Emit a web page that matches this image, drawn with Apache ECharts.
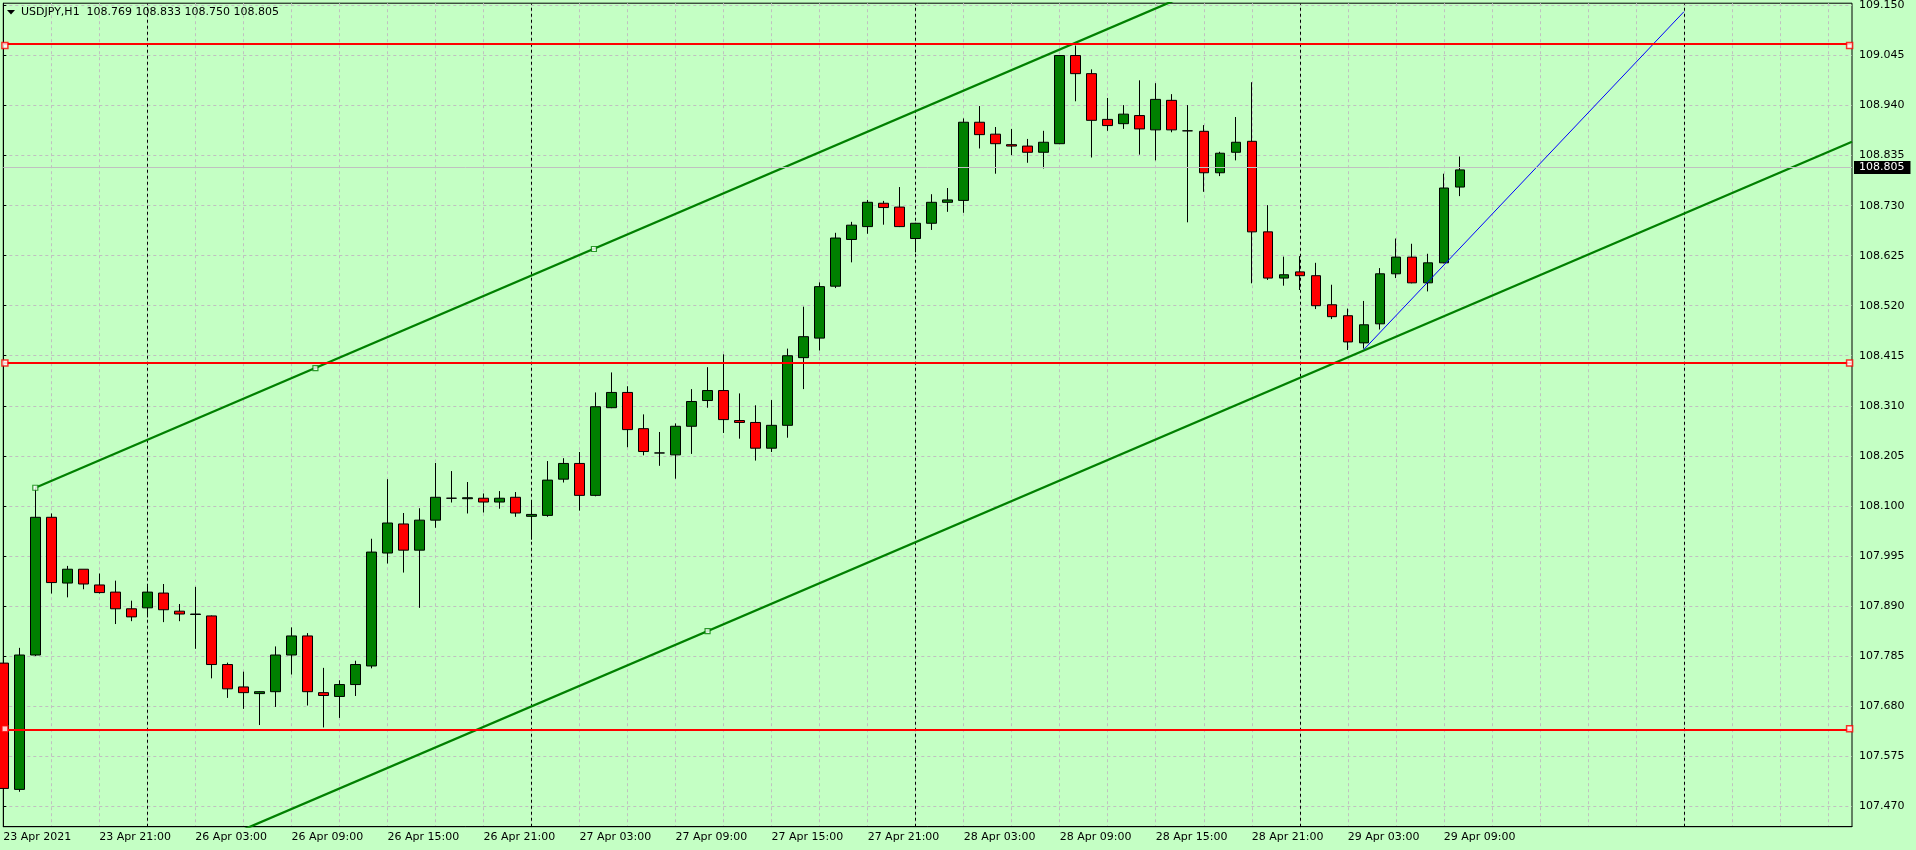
<!DOCTYPE html>
<html>
<head>
<meta charset="utf-8">
<script src="https://cdn.jsdelivr.net/npm/echarts@6/dist/echarts.min.js"></script>
<style>
html,body{margin:0;padding:0;background:#C4FFC4;overflow:hidden;}
#chart{width:1916px;height:850px;}
</style>
</head>
<body>
<div id="chart"></div>
<script>
// ---------- data ----------
const symbolName = 'USDJPY,H1';
const lastBarOHLC = ['108.769', '108.833', '108.750', '108.805'];

// one value per H1 bar, bar 0 = 23 Apr 2021 15:00
const opens = [107.770,107.505,107.787,108.076,107.938,107.967,107.934,107.919,107.884,107.886,
  107.917,107.879,107.873,107.869,107.767,107.720,107.706,107.710,107.787,107.827,
  107.708,107.700,107.725,107.764,108.001,108.062,108.007,108.070,108.116,108.115,
  108.116,108.108,108.118,108.078,108.080,108.156,108.189,108.122,108.306,108.338,
  108.262,108.211,108.207,108.267,108.321,108.342,108.279,108.275,108.221,108.269,
  108.411,108.452,108.561,108.659,108.686,108.735,108.727,108.661,108.693,108.737,
  108.741,108.905,108.880,108.858,108.855,108.842,108.860,109.045,109.007,108.911,
  108.902,108.919,108.889,108.951,108.887,108.886,108.799,108.842,108.865,108.675,
  108.578,108.591,108.583,108.522,108.499,108.442,108.482,108.587,108.622,108.568,
  108.610,108.769];
const highs = [107.786,107.802,108.138,108.084,107.974,107.967,107.958,107.943,107.901,107.935,
  107.936,107.894,107.930,107.870,107.771,107.752,107.711,107.805,107.845,107.833,
  107.760,107.734,107.775,108.031,108.156,108.085,108.095,108.190,108.173,108.150,
  108.126,108.131,108.129,108.112,108.194,108.200,108.213,108.338,108.380,108.351,
  108.292,108.255,108.273,108.345,108.391,108.418,108.336,108.311,108.322,108.430,
  108.518,108.569,108.673,108.696,108.742,108.740,108.769,108.694,108.754,108.767,
  108.913,108.939,108.895,108.891,108.870,108.887,109.046,109.066,109.016,108.956,
  108.941,108.993,108.987,108.964,108.941,108.899,108.843,108.916,108.989,108.731,
  108.623,108.624,108.610,108.564,108.514,108.530,108.599,108.661,108.650,108.629,
  108.797,108.833];
const lows = [107.468,107.500,107.785,107.916,107.908,107.925,107.916,107.852,107.858,107.866,
  107.856,107.858,107.800,107.738,107.697,107.674,107.640,107.678,107.746,107.681,
  107.635,107.655,107.701,107.759,107.979,107.960,107.886,108.054,108.107,108.084,
  108.086,108.094,108.077,108.029,108.077,108.149,108.090,108.120,108.305,108.223,
  108.206,108.184,108.157,108.209,108.306,108.253,108.241,108.195,108.213,108.243,
  108.345,108.426,108.557,108.611,108.671,108.690,108.685,108.632,108.679,108.717,
  108.715,108.850,108.797,108.836,108.820,108.808,108.859,108.949,108.831,108.887,
  108.891,108.837,108.825,108.884,108.695,108.759,108.792,108.825,108.567,108.574,
  108.562,108.553,108.513,108.492,108.427,108.430,108.470,108.578,108.567,108.550,
  108.609,108.750];
const closes = [107.507,107.787,108.076,107.939,107.967,107.936,107.918,107.884,107.867,107.919,
  107.882,107.873,107.872,107.767,107.716,107.708,107.710,107.787,107.827,107.710,
  107.702,107.725,107.767,108.003,108.064,108.007,108.070,108.118,108.116,108.117,
  108.108,108.116,108.085,108.082,108.154,108.189,108.122,108.308,108.338,108.260,
  108.214,108.211,108.267,108.319,108.342,108.281,108.275,108.221,108.269,108.415,
  108.455,108.560,108.662,108.689,108.737,108.726,108.686,108.693,108.737,108.742,
  108.905,108.879,108.860,108.855,108.842,108.863,109.045,109.007,108.909,108.898,
  108.922,108.891,108.953,108.889,108.887,108.799,108.840,108.863,108.675,108.578,
  108.585,108.583,108.520,108.497,108.444,108.480,108.587,108.622,108.568,108.610,
  108.767,108.805];

const priceTicks = [107.470,107.575,107.680,107.785,107.890,107.995,108.100,108.205,
  108.310,108.415,108.520,108.625,108.730,108.835,108.940,109.045,109.150];
const timeLabelBars = [0,6,12,18,24,30,36,42,48,54,60,66,72,78,84,90];
const timeLabels = ['23 Apr 2021','23 Apr 21:00','26 Apr 03:00','26 Apr 09:00','26 Apr 15:00',
  '26 Apr 21:00','27 Apr 03:00','27 Apr 09:00','27 Apr 15:00','27 Apr 21:00','28 Apr 03:00',
  '28 Apr 09:00','28 Apr 15:00','28 Apr 21:00','29 Apr 03:00','29 Apr 09:00'];
const gridBars = [0,3,6,9,12,15,18,21,24,27,30,33,36,39,42,45,48,51,54,57,60,63,66,69,72,75,
  78,81,84,87,90,93,96,99,102,105,108,111,114];
const daySeparatorBars = [9,33,57,81,105];
const horizontalLevels = [109.066, 108.400, 107.632];
const levelAnchorBars = [0.1, 115.35];
const currentPrice = 108.805;
const channelUpper = [[2,108.138],[75,109.187]];
const channelLower = [[2,107.234],[115.5,108.864]];
const channelAnchors = [[2,108.138],[19.5,108.389],[36.9,108.639],[44,107.837]];
const trendLine = [[85,108.428],[105,109.137]];
const axisMin = 107.4267, axisMax = 109.1548;
const barMax = 115.5;

// ---------- chart ----------
const FONT = 'DejaVu Sans';
const candles = opens.map((o, i) => [i, o, closes[i], lows[i], highs[i]]);
const levelSquares = [];
horizontalLevels.forEach(p => levelAnchorBars.forEach(b => levelSquares.push([b, p])));

const chart = echarts.init(document.getElementById('chart'), null, {renderer: 'canvas'});
chart.setOption({
  animation: false,
  backgroundColor: '#C4FFC4',
  title: {
    text: symbolName + '  ' + lastBarOHLC.join(' '),
    left: 21, top: 7, padding: 0,
    textStyle: {fontFamily: FONT, fontSize: 11, fontWeight: 'normal', color: '#000', lineHeight: 11}
  },
  graphic: [{
    type: 'polygon', shape: {points: [[7, 10], [15, 10], [11, 14.5]]},
    style: {fill: '#000'}, z: 10
  }],
  grid: {left: 3.3, right: 64, top: 1, bottom: 23.3, show: true,
    borderColor: '#000', borderWidth: 1, backgroundColor: 'transparent'},
  xAxis: {
    type: 'value', min: 0, max: barMax,
    axisLine: {show: true, onZero: false, lineStyle: {color: '#000', width: 1}},
    axisTick: {show: false, customValues: gridBars},
    axisLabel: {
      customValues: timeLabelBars, align: 'left', margin: 5,
      fontFamily: FONT, fontSize: 11, color: '#000',
      formatter: v => { const i = timeLabelBars.indexOf(Math.round(v)); return i >= 0 ? timeLabels[i] : ''; }
    },
    splitLine: {show: true, lineStyle: {color: '#C0C0C0', type: [3, 3], width: 1}}
  },
  yAxis: {
    type: 'value', position: 'right', min: axisMin, max: axisMax, scale: true,
    axisLine: {show: true, lineStyle: {color: '#000', width: 1}},
    axisTick: {show: true, length: 3, customValues: priceTicks, lineStyle: {color: '#000'}},
    axisLabel: {
      customValues: priceTicks, margin: 7,
      fontFamily: FONT, fontSize: 11, color: '#000',
      formatter: v => v.toFixed(3)
    },
    splitLine: {show: true, lineStyle: {color: '#C0C0C0', type: [3, 3], width: 1}}
  },
  series: [
    {
      type: 'candlestick', z: 2, barWidth: 10,
      data: candles,
      itemStyle: {color: '#008000', color0: '#FF0000', borderColor: '#000',
        borderColor0: '#000', borderColorDoji: '#000', borderWidth: 1},
      markLine: {
        silent: true, symbol: 'none', z: 1, animation: false,
        label: {show: false},
        lineStyle: {color: '#000', type: [3, 3], width: 1},
        data: daySeparatorBars.map(b => ({xAxis: b}))
      }
    },
    {
      type: 'line', z: 4, data: channelUpper, showSymbol: false, symbol: 'none',
      lineStyle: {color: '#008000', width: 2.3}, clip: true,
      markLine: {
        silent: true, symbol: 'none', z: 5, animation: false,
        lineStyle: {color: '#FF0000', width: 2.2, type: 'solid'},
        label: {show: false},
        data: horizontalLevels.map(p => ({yAxis: p, label: {show: false},
            lineStyle: {color: '#FF0000', width: 2.2, type: 'solid'}}))
          .concat([{yAxis: currentPrice,
            lineStyle: {color: '#C0C0C0', width: 1, type: 'solid'},
            label: {show: true, position: 'end', distance: 2, formatter: currentPrice.toFixed(3),
              backgroundColor: '#000', color: '#fff', padding: [1, 6, 1, 5],
              fontFamily: FONT, fontSize: 11, lineHeight: 11}}])
      }
    },
    {
      type: 'line', z: 4, data: channelLower, showSymbol: false, symbol: 'none',
      lineStyle: {color: '#008000', width: 2.3}, clip: true
    },
    {
      type: 'line', z: 4, data: trendLine, showSymbol: false, symbol: 'none',
      lineStyle: {color: '#0000FF', width: 1}, clip: true
    },
    {
      type: 'scatter', z: 6, data: levelSquares, symbol: 'rect', symbolSize: 6,
      itemStyle: {color: '#fff', borderColor: '#FF0000', borderWidth: 1.5}, clip: false
    },
    {
      type: 'scatter', z: 6, data: channelAnchors, symbol: 'rect', symbolSize: 5,
      itemStyle: {color: '#fff', borderColor: '#008000', borderWidth: 1.2}, clip: false
    }
  ]
});
</script>
</body>
</html>
